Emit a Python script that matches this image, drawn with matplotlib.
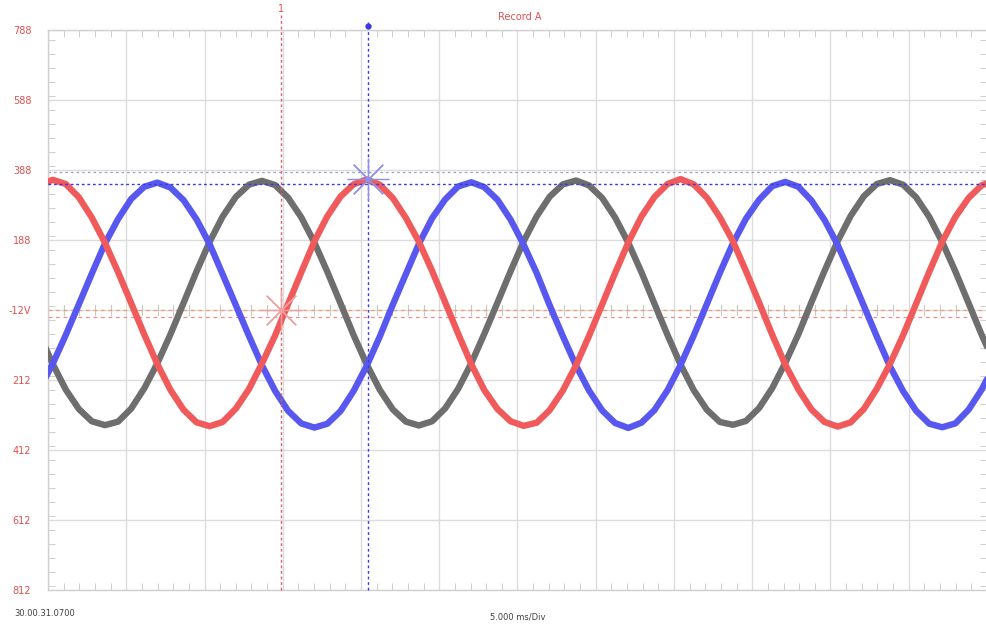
import matplotlib
matplotlib.use("Agg")
import matplotlib.pyplot as plt
from matplotlib.ticker import MultipleLocator

# ---------------- data ----------------
time_ms = [-0.54, 0.30, 1.13, 1.97, 2.80, 3.64, 4.48, 5.31, 6.15, 6.98,
           7.82, 8.66, 9.49, 10.33, 11.16, 12.00, 12.84, 13.67, 14.51, 15.34,
           16.18, 17.02, 17.85, 18.69, 19.52, 20.36, 21.20, 22.03, 22.87, 23.70,
           24.54, 25.38, 26.21, 27.05, 27.88, 28.72, 29.56, 30.39, 31.23, 32.06,
           32.90, 33.74, 34.57, 35.41, 36.24, 37.08, 37.92, 38.75, 39.59, 40.42,
           41.26, 42.10, 42.93, 43.77, 44.60, 45.44, 46.28, 47.11, 47.95, 48.78,
           49.62, 50.46, 51.29, 52.13, 52.96, 53.80, 54.64, 55.47, 56.31, 57.14,
           57.98, 58.82, 59.65, 60.49]

red_v = [345, 360, 348, 310, 252, 180, 96, 8, -82, -166,
         -240, -297, -333, -344, -332, -294, -238, -165, -85, 5,
         95, 184, 256, 312, 347, 361, 346, 308, 251, 183,
         100, 10, -80, -167, -241, -295, -330, -343, -334, -298,
         -242, -170, -86, 4, 94, 181, 255, 311, 348, 362,
         347, 309, 253, 184, 99, 9, -83, -168, -239, -296,
         -332, -345, -333, -295, -237, -166, -84, 6, 97, 183,
         254, 308, 344, 358]

blue_v = [-238, -166, -84, 4, 92, 178, 248, 305, 340, 352,
          338, 302, 247, 176, 90, 2, -86, -170, -243, -300,
          -336, -348, -337, -301, -244, -172, -88, 3, 91, 177,
          250, 304, 341, 353, 339, 303, 246, 175, 93, 1,
          -87, -171, -242, -299, -335, -349, -334, -298, -241, -169,
          -85, 5, 94, 179, 249, 303, 342, 354, 340, 301,
          245, 174, 89, 0, -88, -173, -244, -300, -337, -347,
          -336, -297, -240, -167]

gray_v = [-82, -166, -239, -295, -330, -341, -331, -294, -236, -165,
          -82, 8, 98, 183, 255, 311, 346, 357, 345, 309,
          253, 181, 97, 7, -83, -167, -240, -296, -331, -342,
          -330, -293, -237, -164, -80, 9, 99, 184, 256, 312,
          347, 358, 344, 308, 252, 180, 96, 6, -84, -168,
          -241, -297, -332, -340, -329, -292, -235, -163, -81, 10,
          100, 185, 257, 313, 348, 359, 346, 310, 254, 182,
          98, 8, -82, -165]

y_ticks = [788, 588, 388, 188, -12, -212, -412, -612, -812]
y_tick_labels = ["788", "588", "388", "188", "-12V", "212", "412", "612", "812"]

cursor1_t = 14.9       # red vertical cursor
cursor2_t = 20.45      # blue vertical cursor
cursor_blue_levels = [348, 382]
offset_levels = [-12, -33]

# ---------------- figure ----------------
W, H = 987, 626
fig = plt.figure(figsize=(W / 100, H / 100), dpi=100)
ax = fig.add_axes([48 / W, 1 - 590 / H, (987 - 48) / W, (590 - 30) / H])

ax.set_xlim(0, 60)
ax.set_ylim(-812, 788)

# grid
ax.xaxis.set_major_locator(MultipleLocator(5))
ax.xaxis.set_minor_locator(MultipleLocator(1))
ax.set_yticks(y_ticks)
ax.yaxis.set_minor_locator(MultipleLocator(40))
ax.grid(True, which="major", color="#dcdcdc", lw=1.0)
ax.set_axisbelow(True)
ax.tick_params(axis="x", which="both", direction="in", top=True, bottom=True,
               labelbottom=False, color="#c8c8c8")
ax.tick_params(axis="x", which="major", length=0)
ax.tick_params(axis="x", which="minor", length=5)
ax.tick_params(axis="y", which="both", direction="in", left=True, right=True,
               color="#c8c8c8")
ax.tick_params(axis="y", which="major", length=0, pad=12)
ax.tick_params(axis="y", which="minor", length=5)
ax.set_yticklabels(y_tick_labels, color="#e05050", fontsize=7)
for s in ax.spines.values():
    s.set_color("#d0d0d0")
    s.set_linewidth(1.0)

# center-line minor ticks
for t in range(1, 60):
    if t % 5:
        ax.plot([t, t], [-12 - 14, -12 + 14], color="#c8c8c8", lw=0.8, zorder=1)

# offset lines
ax.axhline(offset_levels[0], color="#f0a070", lw=0.9, ls=(0, (3, 3)), zorder=1)
ax.axhline(offset_levels[1], color="#e89090", lw=0.9, ls=(0, (3, 3)), zorder=1)

# waveforms
ax.plot(time_ms, gray_v, color="#6e6e6e", lw=4.6, solid_capstyle="round", zorder=3)
ax.plot(time_ms, blue_v, color="#5858f0", lw=4.6, solid_capstyle="round", zorder=4)
ax.plot(time_ms, red_v, color="#f05a5a", lw=4.6, solid_capstyle="round", zorder=5)

# cursors
ax.axhline(cursor_blue_levels[0], color="#3a3ae0", lw=1.0, ls=(0, (2, 2)), zorder=6)
ax.axhline(cursor_blue_levels[1], color="#9a9ad8", lw=0.9, ls=(0, (2, 2.5)), zorder=2)
ax.plot([cursor1_t, cursor1_t], [-812, 830], color="#e06060", lw=1.0,
        ls=(0, (2, 2)), zorder=6, clip_on=False)
ax.plot([cursor2_t, cursor2_t], [-812, 810], color="#3a3ae0", lw=1.0,
        ls=(0, (2, 2)), zorder=6, clip_on=False)
ax.plot([cursor2_t], [800], marker="o", ms=3.5, color="#3a3ae0", clip_on=False)
ax.text(cursor1_t, 835, "1", color="#e05050", fontsize=7, ha="center", va="bottom")

# star markers
ax.plot([cursor1_t], [-12], marker=(8, 2, 0), ms=30, mec="#f0a0a0", mew=0.9, zorder=7)
ax.plot([cursor2_t], [362], marker=(8, 2, 0), ms=30, mec="#9090e8", mew=0.9, zorder=7)

# texts
fig.text(520 / W, 1 - 17 / H, "Record A", color="#e05050", fontsize=7,
         ha="center", va="center")
fig.text(14 / W, 1 - 614 / H, "30.00.31.0700", color="#404040", fontsize=6,
         ha="left", va="center")
fig.text(518 / W, 1 - 617 / H, "5.000 ms/Div", color="#404040", fontsize=6,
         ha="center", va="center")

fig.savefig("out.png", dpi=100)
